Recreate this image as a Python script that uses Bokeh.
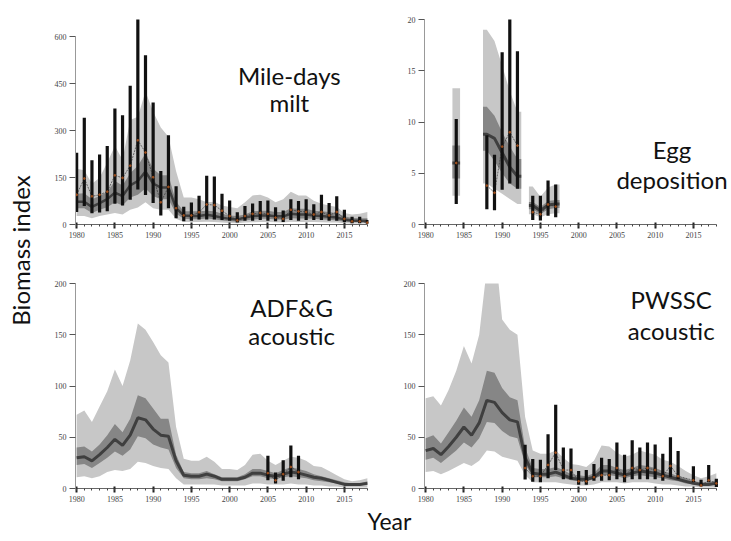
from math import pi
from bokeh.plotting import figure
from bokeh.models import Range1d, Label, SingleIntervalTicker, FixedTicker
from bokeh.layouts import row, column
from bokeh.embed import file_html
from bokeh.resources import INLINE

# ---------------- data ----------------
years = list(range(1980, 2019))

# Mile-days milt
md_hi95 = [178,173,130,149,198,251,207,334,344,425,360,310,280,170,86,86,81,71,73,61,56,52,71,93,95,86,71,81,105,93,93,76,66,61,56,37,32,34,40]
md_lo95 = [27,27,20,27,32,37,32,47,54,71,52,47,47,18,8,8,8,9,8,6,5,4,6,7,8,8,7,6,9,8,8,8,7,6,6,4,3,3,3]
md_hi50 = [98,100,81,91,105,139,125,164,188,227,178,157,157,73,42,42,42,44,42,34,29,27,32,42,44,44,40,40,52,50,50,44,42,40,36,26,21,20,20]
md_lo50 = [52,52,37,47,55,71,61,86,95,115,91,81,81,34,18,17,17,19,17,13,10,9,13,16,18,18,16,15,20,19,19,18,16,15,13,9,7,7,6]
md_med = [73,73,56,68,81,102,91,125,139,169,131,118,118,52,29,27,27,31,27,22,18,16,22,27,29,29,26,26,34,32,32,29,27,25,22,16,13,12,11]
md_obs = [95,147,90,95,105,157,149,188,269,230,151,71,120,52,29,29,39,64,62,44,27,13,27,34,37,34,22,18,47,42,40,32,40,29,40,18,10,10,6]
md_bar_hi = [229,341,205,224,251,371,349,443,660,541,390,171,285,122,57,70,92,156,153,98,77,39,59,67,75,77,55,45,81,75,81,65,95,69,90,47,25,25,14]
md_bar_lo = [40,59,36,38,42,66,61,79,112,94,69,29,52,20,10,12,16,16,16,14,12,6,12,12,14,12,10,8,14,12,14,14,14,12,12,8,4,4,2]

# Egg deposition
egg_years = [1984, 1988, 1989, 1990, 1991, 1992, 1994, 1995, 1996, 1997]
egg_hi95 = [13.3, 19.0, 17.9, 15.5, 13.0, 11.0, 3.7, 2.7, 3.6, 3.9]
egg_lo95 = [2.8, 4.0, 3.5, 3.0, 2.5, 2.0, 1.0, 0.7, 1.0, 1.1]
egg_hi50 = [7.7, 11.5, 10.6, 9.0, 7.6, 6.4, 2.2, 1.7, 2.3, 2.4]
egg_lo50 = [4.5, 7.2, 6.2, 5.0, 4.0, 3.5, 1.5, 1.0, 1.5, 1.6]
egg_med = [6.0, 8.8, 8.4, 7.0, 5.6, 4.7, 1.85, 1.35, 1.9, 2.0]
egg_obs = [6.0, 3.8, 3.1, 7.6, 9.0, 7.7, 1.2, 1.0, 1.95, 1.75]
egg_bar_hi = [10.3, 8.7, 6.8, 16.8, 20.5, 16.9, 2.8, 2.8, 4.3, 3.9]
egg_bar_lo = [2.0, 1.5, 1.4, 3.4, 4.0, 3.5, 0.45, 0.4, 0.85, 0.7]

# ADF&G acoustic
adf_hi95 = [72,76,65,80,95,116,100,125,161,155,143,130,123,60,29,27,27,31,26,19,19,18,23,33,34,27,23,27,31,30,27,22,21,17,13,9,7,8,10]
adf_lo95 = [11,12,10,12,16,18,17,19,26,25,22,20,19,10,4,4,4,4,4,3,3,3,3,5,5,4,4,4,5,4,4,3,3,2,2,1,1,1,1]
adf_hi50 = [40,41,36,43,52,63,55,68,91,88,78,68,68,33,16,15,15,17,14,11,11,11,14,19,19,17,15,18,21,19,17,14,12,10,8,6,5,5,7]
adf_lo50 = [23,24,20,25,30,36,32,38,51,49,43,40,38,20,10,9,9,10,9,7,7,7,9,12,12,10,9,11,12,11,10,8,7,6,5,3,3,3,4]
adf_med = [30,31,27,33,40,48,42,52,69,67,58,52,51,27,13,12,12,14,12,9,9,9,11,15,15,13,12,14,16,15,13,11,10,8,6,4,4,4,5]
adf_obs_years = [2005, 2006, 2007, 2008, 2009]
adf_obs = [15, 8, 14, 21, 16]
adf_bar_hi = [32, 15.5, 27.5, 42, 32]
adf_bar_lo = [8, 4.9, 7.5, 11, 9]

# PWSSC acoustic
pw_hi95 = [88,90,81,96,115,139,122,150,215,240,165,155,150,70,37,34,34,37,30,24,23,21,27,42,41,35,31,33,37,35,33,28,26,22,17,13,10,12,15]
pw_lo95 = [16,17,14,17,21,25,22,27,37,36,31,29,27,13,6,6,6,6,5,4,3,3,4,6,6,6,5,6,6,6,5,4,4,3,2,2,1,1,1]
pw_hi50 = [49,52,44,55,66,79,70,86,115,113,98,89,86,40,20,19,19,21,18,14,13,12,15,23,23,20,18,20,23,22,20,17,15,12,10,7,6,6,8]
pw_lo50 = [28,30,25,31,37,45,40,49,65,64,56,51,49,24,11,11,11,12,10,8,7,7,9,13,13,12,10,12,13,12,11,10,8,7,5,4,3,3,4]
pw_med = [37,39,33,41,50,60,52,64,86,84,74,67,65,30,15,14,14,16,13,10,9,9,11,17,17,15,13,15,17,16,15,13,11,9,7,5,4,4,5]
pw_obs_years = [1993,1994,1995,1996,1997,1998,1999,2000,2001,2002,2003,2004,2005,2006,2007,2008,2009,2010,2011,2012,2013,2015,2016,2017,2018]
pw_obs = [20,12,12,23,35,18,18,7,7,11,13,13,20,12,20,18,20,18,12,22,12,8,3,8,5]
pw_bar_hi = [42.6,28.7,28,53,81.7,40,39,17,18,24,30,28.7,45,33,47,40,45,43,34,50,36.5,21.6,8.5,23,9.5]
pw_bar_lo = [8.8,6.5,6,10,18,9,9,3.6,3.6,7.6,7.6,8,9,6,9,9,9,9,7.5,11,9,6,2,6,1.4]

md_ticks = [0, 150, 300, 450, 600]
egg_ticks = [0, 5, 10, 15, 20]
ac_ticks = [0, 50, 100, 150, 200]

panel_titles = {
    "md": ["Mile-days", "milt"],
    "egg": ["Egg", "deposition"],
    "adf": ["ADF&G", "acoustic"],
    "pw": ["PWSSC", "acoustic"],
}

# ---------------- style ----------------
LIGHT = "#c7c7c7"
DARK = "#868686"
MED = "#3f3f3f"
BAR = "#111111"
OBS = "#3a3a3a"
PT = "#a0501e"
FONT = "Lato"
XR_LEFT = (1979.85, 2018.15)
XR_RIGHT = (1979.85, 2019.85)


def make_panel(w, h, xr, yr, ticks, bl, br, bt, bb):
    p = figure(width=w, height=h, x_range=Range1d(*xr), y_range=Range1d(*yr),
               output_backend="svg", toolbar_location=None,
               min_border_left=bl, min_border_right=br, min_border_top=bt, min_border_bottom=bb)
    p.outline_line_color = None
    p.xgrid.visible = False
    p.ygrid.visible = False
    p.background_fill_color = "white"
    p.border_fill_color = "white"
    xa = p.xaxis[0]
    xa.ticker = SingleIntervalTicker(interval=5, num_minor_ticks=5)
    xa.bounds = (1980, 2018)
    xa.axis_line_color = "#666666"
    xa.major_tick_in = 2
    xa.major_tick_out = 4
    xa.major_tick_line_width = 2
    xa.major_tick_line_color = "#222222"
    xa.minor_tick_in = 0
    xa.minor_tick_out = 2
    xa.minor_tick_line_color = "#444444"
    xa.major_label_standoff = 3
    ya = p.yaxis[0]
    ya.ticker = FixedTicker(ticks=ticks, minor_ticks=[])
    ya.bounds = (ticks[0], ticks[-1])
    ya.axis_line_color = "#999999"
    ya.major_tick_in = 0
    ya.major_tick_out = 6
    ya.major_tick_line_color = "#555555"
    ya.minor_tick_line_color = None
    ya.major_label_standoff = 3
    for ax in (xa, ya):
        ax.major_label_text_font = "Liberation Serif"
        ax.major_label_text_font_size = "8px"
        ax.major_label_text_color = "#444444"
    return p


def draw_model(p, x, lo95, hi95, lo50, hi50, med, mw=3):
    p.varea(x=x, y1=lo95, y2=hi95, fill_color=LIGHT)
    p.varea(x=x, y1=lo50, y2=hi50, fill_color=DARK)
    p.line(x, med, line_width=mw, line_color=MED)


def draw_obs(p, x, obs, lo, hi):
    p.line(x, obs, line_width=0.7, line_color=OBS, line_dash="2 1")
    p.segment(x0=x, y0=lo, x1=x, y1=hi, line_width=3.2, line_color=BAR)
    p.scatter(x, obs, size=1.8, color=PT)


def add_title(p, key, x, y0, dy):
    for i, t in enumerate(panel_titles[key]):
        p.add_layout(Label(x=x, y=y0 - i * dy, text=t, text_align="center",
                           text_baseline="alphabetic", text_font=FONT,
                           text_font_size="24px", text_color="#111111"))


# Panel 1: Mile-days milt
p1 = make_panel(362, 260, XR_LEFT, (0, 655), md_ticks, 37, 32, 0, 36)
draw_model(p1, years, md_lo95, md_hi95, md_lo50, md_hi50, md_med, mw=2.5)
draw_obs(p1, years, md_obs, md_bar_lo, md_bar_hi)
add_title(p1, "md", 2007.8, 476, 86)

# Panel 2: Egg deposition (separate survey runs)
p2 = make_panel(330, 260, XR_RIGHT, (0, 20), egg_ticks, 24, 0, 19, 36)
groups = []
for i, yv in enumerate(egg_years):
    if i == 0 or yv - egg_years[i - 1] > 1:
        groups.append([])
    groups[-1].append(i)
for g in groups:
    gx = [egg_years[g[0]] - 0.5] + [egg_years[i] for i in g] + [egg_years[g[-1]] + 0.5]

    def ext(arr):
        return [arr[g[0]]] + [arr[i] for i in g] + [arr[g[-1]]]

    draw_model(p2, gx, ext(egg_lo95), ext(egg_hi95), ext(egg_lo50), ext(egg_hi50), ext(egg_med))
for g in groups:
    gx = [egg_years[i] for i in g]
    draw_obs(p2, gx, [egg_obs[i] for i in g], [egg_bar_lo[i] for i in g], [egg_bar_hi[i] for i in g])
add_title(p2, "egg", 2012.2, 7.3, 2.9)

# Panel 3: ADF&G acoustic
p3 = make_panel(362, 245, XR_LEFT, (0, 200), ac_ticks, 37, 32, 23, 17)
draw_model(p3, years, adf_lo95, adf_hi95, adf_lo50, adf_hi50, adf_med)
draw_obs(p3, adf_obs_years, adf_obs, adf_bar_lo, adf_bar_hi)
add_title(p3, "adf", 2008.1, 177, 28)

# Panel 4: PWSSC acoustic
p4 = make_panel(330, 245, XR_RIGHT, (0, 200), ac_ticks, 24, 0, 23, 17)
draw_model(p4, years, pw_lo95, pw_hi95, pw_lo50, pw_hi50, pw_med)
draw_obs(p4, pw_obs_years, pw_obs, pw_bar_lo, pw_bar_hi)
add_title(p4, "pw", 2012.1, 184, 30)


def blank(w, h):
    f = figure(width=w, height=h, x_range=Range1d(0, w), y_range=Range1d(0, h),
               output_backend="svg", toolbar_location=None, min_border=0,
               x_axis_type=None, y_axis_type=None)
    f.outline_line_color = None
    f.xgrid.visible = False
    f.ygrid.visible = False
    return f


left = blank(38, 540)
left.add_layout(Label(x=20, y=290, text="Biomass index", angle=pi / 2, text_align="center",
                      text_baseline="middle", text_font=FONT, text_font_size="24px",
                      text_color="#111111"))

yr_fig = blank(692, 35)
yr_fig.add_layout(Label(x=351, y=34, text="Year", text_align="center", text_baseline="top",
                        text_font=FONT, text_font_size="23px", text_color="#111111"))

layout = row(left, column(row(p1, p2), row(p3, p4), yr_fig))

with open("out.html", "w") as fh:
    fh.write(file_html(layout, INLINE))
